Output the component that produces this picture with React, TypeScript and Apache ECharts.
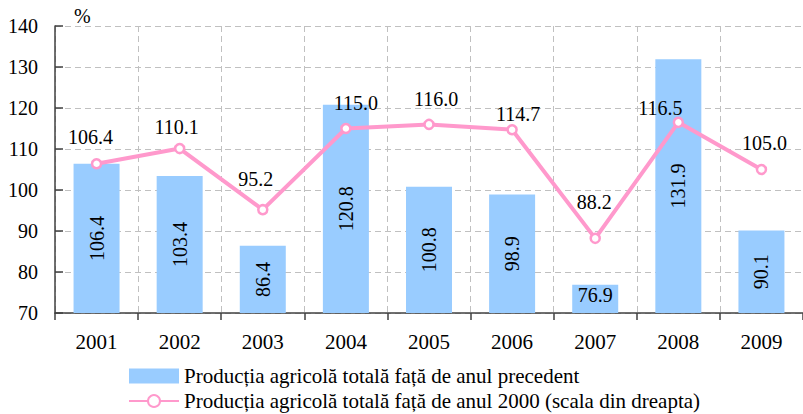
import React, { useEffect, useRef } from "react";
import * as echarts from "echarts";

const years = ["2001", "2002", "2003", "2004", "2005", "2006", "2007", "2008", "2009"];
const prevYear = [106.4, 103.4, 86.4, 120.8, 100.8, 98.9, 76.9, 131.9, 90.1];
const vs2000 = [106.4, 110.1, 95.2, 115.0, 116.0, 114.7, 88.2, 116.5, 105.0];
const barName = "Producția agricolă totală față de anul precedent";
const lineName = "Producția agricolă totală față de anul 2000 (scala din dreapta)";
// label nudges for the line's value labels [dx, dy] (style only)
const lineLabelOffsets = [[-6, 2], [-3, 7], [-7, -2], [10, 3], [7, 3], [6, 13], [-1, -8], [-18, 14], [3, 2]];

const FONT = "'Liberation Serif', 'Times New Roman', serif";

export default function App() {
  const ref = useRef<HTMLDivElement>(null);
  useEffect(() => {
    if (!ref.current) return;
    const chart = echarts.init(ref.current, undefined, { renderer: "svg" });
    chart.setOption({
      animation: false,
      textStyle: { fontFamily: FONT, color: "#000" },
      grid: { left: 55, top: 26, width: 753, height: 287, containLabel: false },
      legend: {
        orient: "vertical",
        left: 128,
        top: 365,
        padding: 0,
        height: 60,
        itemWidth: 50,
        itemHeight: 15,
        itemGap: 3,
        textStyle: { fontFamily: FONT, fontSize: 21, color: "#000", lineHeight: 22 },
        data: [
          { name: barName, icon: "rect" },
          { name: lineName },
        ],
      },
      graphic: [
        { type: "text", left: 74, top: 6, style: { text: "%", fontFamily: FONT, fontSize: 20, fill: "#000" } },
      ],
      xAxis: {
        type: "category",
        data: years,
        axisLine: { lineStyle: { color: "#404040", width: 1.5 } },
        axisTick: { show: true, length: 7, lineStyle: { color: "#404040", width: 1.5 } },
        axisLabel: { fontFamily: FONT, fontSize: 21, color: "#000", margin: 18 },
        splitLine: { show: true, lineStyle: { color: "#c0c0c0", type: [6, 4], width: 1 } },
      },
      yAxis: {
        type: "value",
        min: 70,
        max: 140,
        interval: 10,
        axisLine: { show: true, lineStyle: { color: "#404040", width: 1.5 } },
        axisTick: { show: true, inside: true, length: 8, lineStyle: { color: "#404040", width: 1.5 } },
        axisLabel: { fontFamily: FONT, fontSize: 20, color: "#000", margin: 17 },
        splitLine: { show: true, lineStyle: { color: "#c0c0c0", type: [6, 4], width: 1 } },
      },
      series: [
        {
          name: barName,
          type: "bar",
          data: prevYear.map((v) => ({
            value: v,
            label: v < 80 ? { rotate: 0, position: "insideTop", distance: 0 } : undefined,
          })),
          barWidth: 46,
          itemStyle: { color: "#99CCFF" },
          label: {
            show: true,
            position: "inside",
            rotate: 90,
            fontFamily: FONT,
            fontSize: 20,
            color: "#000",
            formatter: (p: any) => Number(p.value).toFixed(1),
          },
          z: 2,
        },
        {
          name: lineName,
          type: "line",
          data: vs2000.map((v, i) => ({
            value: v,
            label: { offset: lineLabelOffsets[i] },
          })),
          symbol: "circle",
          symbolSize: 9,
          lineStyle: { color: "#FF99CC", width: 4 },
          itemStyle: { color: "#fff", borderColor: "#FF99CC", borderWidth: 2.5 },
          label: {
            show: true,
            position: "top",
            distance: 13,
            fontFamily: FONT,
            fontSize: 20,
            color: "#000",
            formatter: (p: any) => Number(p.value).toFixed(1),
          },
          z: 3,
        },
      ],
    });
    return () => chart.dispose();
  }, []);
  return <div ref={ref} style={{ width: 803, height: 414, position: "absolute", left: 0, top: 0 }} />;
}
